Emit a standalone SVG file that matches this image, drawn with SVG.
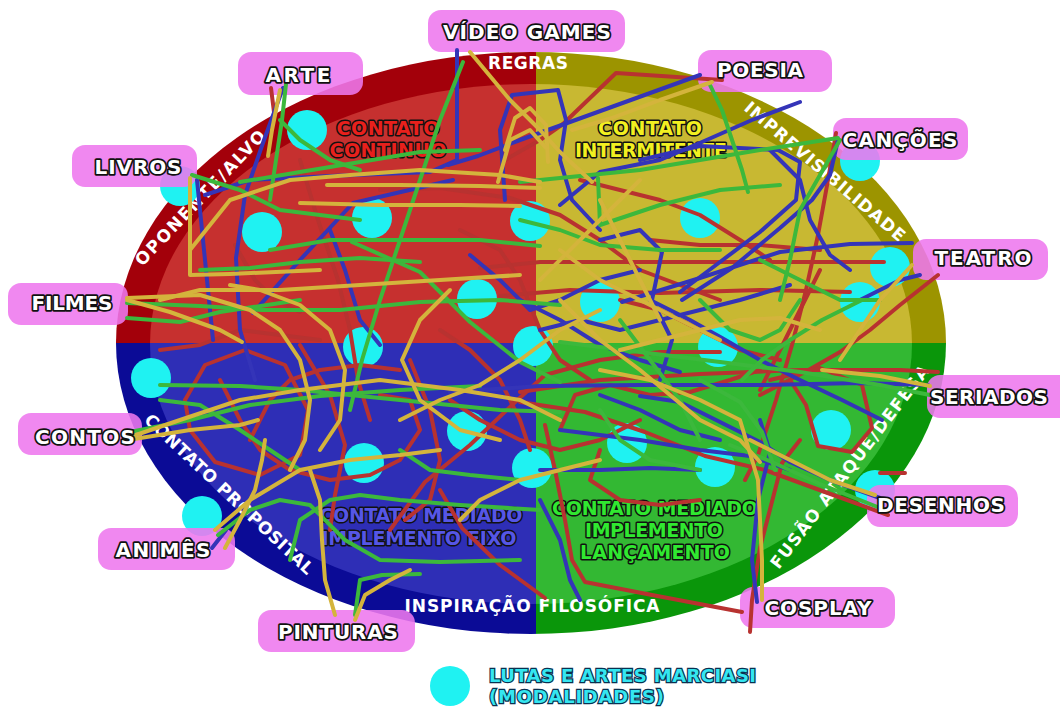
<svg xmlns="http://www.w3.org/2000/svg" width="1060" height="707" viewBox="0 0 1060 707">
<style>
.lbl{font-family:"DejaVu Sans","Liberation Sans",sans-serif;font-weight:bold;font-size:20px;fill:#fff;stroke:#111;stroke-width:3.5;paint-order:stroke;text-anchor:middle;stroke-linejoin:round}
.box{fill:#ee78ee;fill-opacity:0.88}
.q{font-family:"DejaVu Sans","Liberation Sans",sans-serif;font-weight:bold;font-size:19px;stroke:#111;stroke-width:3;paint-order:stroke;text-anchor:middle;stroke-linejoin:round}
.ring{font-family:"DejaVu Sans","Liberation Sans",sans-serif;font-weight:bold;font-size:17px;fill:#fff;text-anchor:middle}
.c{fill:#1ff2f2}
#lines polyline{fill:none;stroke-width:4;stroke-linecap:round;stroke-linejoin:round}
#lines .r{stroke:#b83230}
#lines .b{stroke:#3434b8}
#lines .g{stroke:#3cb83c}
#lines .y{stroke:#d4b43c}
</style>
<defs>
<clipPath id="outer"><ellipse cx="531" cy="343" rx="415" ry="291"/></clipPath>
<clipPath id="inner"><ellipse cx="531" cy="344" rx="381" ry="260"/></clipPath>
<path id="pOpo" d="M 126 284 L 283 120"/>
<path id="pImp" d="M 727 96 L 915 256"/>
<path id="pPro" d="M 128 407 L 322 590"/>
<path id="pFus" d="M 765.9 586.9 L 943.1 354.1"/>
</defs>
<rect width="1060" height="707" fill="#fff"/>
<g id="ellipse">
<g clip-path="url(#outer)">
<rect x="110" y="48" width="426" height="295" fill="#a3000a"/>
<rect x="536" y="48" width="415" height="295" fill="#9c9400"/>
<rect x="110" y="343" width="426" height="295" fill="#0b0b96"/>
<rect x="536" y="343" width="415" height="295" fill="#0a960a"/>
</g>
<g clip-path="url(#inner)">
<rect x="110" y="48" width="426" height="295" fill="#c6302f"/>
<rect x="536" y="48" width="415" height="295" fill="#c8b832"/>
<rect x="110" y="343" width="426" height="295" fill="#2e2eb6"/>
<rect x="536" y="343" width="415" height="295" fill="#33b833"/>
</g>
</g>
<g id="ring-labels">
<text class="ring" x="528" y="69" font-size="18" textLength="80">REGRAS</text>
<text class="ring" x="532" y="612" textLength="255">INSPIRAÇÃO FILOSÓFICA</text>
<text class="ring"><textPath href="#pOpo" startOffset="50%" textLength="180">OPONENTE/ALVO</textPath></text>
<text class="ring"><textPath href="#pImp" startOffset="50%" textLength="205">IMPREVISIBILIDADE</textPath></text>
<text class="ring"><textPath href="#pPro" startOffset="50%" textLength="225">CONTATO PROPOSITAL</textPath></text>
<text class="ring"><textPath href="#pFus" startOffset="50%" textLength="250">FUSÃO ATAQUE/DEFESA</textPath></text>
</g>
<g id="quadrant-labels">
<text class="q" fill="#e8201c" x="388" y="135" textLength="103">CONTATO</text>
<text class="q" fill="#e8201c" x="388" y="157" textLength="117">CONTINUO</text>
<text class="q" fill="#f2f020" x="650" y="135" textLength="104">CONTATO</text>
<text class="q" fill="#f2f020" x="651" y="157" textLength="152">INTERMITENTE</text>
<text class="q" fill="#5656e6" stroke="#141470" x="421" y="522" textLength="203">CONTATO MEDIADO</text>
<text class="q" fill="#5656e6" stroke="#141470" x="419" y="545" textLength="195">IMPLEMENTO FIXO</text>
<text class="q" fill="#30e830" x="655" y="515" textLength="206">CONTATO MEDIADO</text>
<text class="q" fill="#30e830" x="654" y="537" textLength="138">IMPLEMENTO</text>
<text class="q" fill="#30e830" x="655" y="559" textLength="150">LANÇAMENTO</text>
</g>
<g id="modalidades">
<circle class="c" cx="307" cy="130" r="20"/>
<circle class="c" cx="372" cy="218" r="20"/>
<circle class="c" cx="262" cy="232" r="20"/>
<circle class="c" cx="530" cy="221" r="20"/>
<circle class="c" cx="477" cy="299" r="20"/>
<circle class="c" cx="363" cy="347" r="20"/>
<circle class="c" cx="151" cy="378" r="20"/>
<circle class="c" cx="180" cy="186" r="20"/>
<circle class="c" cx="700" cy="218" r="20"/>
<circle class="c" cx="600" cy="302" r="20"/>
<circle class="c" cx="890" cy="267" r="20"/>
<circle class="c" cx="860" cy="302" r="20"/>
<circle class="c" cx="860" cy="161" r="20"/>
<circle class="c" cx="533" cy="346" r="20"/>
<circle class="c" cx="718" cy="347" r="20"/>
<circle class="c" cx="467" cy="431" r="20"/>
<circle class="c" cx="364" cy="463" r="20"/>
<circle class="c" cx="532" cy="468" r="20"/>
<circle class="c" cx="627" cy="443" r="20"/>
<circle class="c" cx="715" cy="467" r="20"/>
<circle class="c" cx="831" cy="430" r="20"/>
<circle class="c" cx="875" cy="490" r="20"/>
<circle class="c" cx="202" cy="516" r="20"/>
</g>
<g id="boxes">
<rect class="box" x="428" y="10" width="197" height="42" rx="13"/>
<rect class="box" x="238" y="52" width="125" height="43" rx="13"/>
<rect class="box" x="698" y="50" width="134" height="42" rx="13"/>
<rect class="box" x="72" y="145" width="125" height="42" rx="13"/>
<rect class="box" x="833" y="118" width="135" height="42" rx="13"/>
<rect class="box" x="913" y="239" width="135" height="41" rx="13"/>
<rect class="box" x="8" y="283" width="120" height="42" rx="13"/>
<rect class="box" x="927" y="375" width="145" height="43" rx="13"/>
<rect class="box" x="18" y="413" width="124" height="42" rx="13"/>
<rect class="box" x="867" y="485" width="151" height="42" rx="13"/>
<rect class="box" x="98" y="528" width="137" height="42" rx="13"/>
<rect class="box" x="740" y="587" width="155" height="41" rx="13"/>
<rect class="box" x="258" y="610" width="157" height="42" rx="13"/>
</g>
<g id="lines">
<polyline class="r" points="271,88 274,112"/>
<polyline class="r" points="722,80 616,73 563,124 540,140 505,160"/>
<polyline class="r" points="836,133 828,180 818,235 806,290 792,345 776,400 758,455 745,480"/>
<polyline class="r" points="938,275 900,305 870,330 840,352 805,372 760,395"/>
<polyline class="r" points="884,262 800,262 700,262 610,262 540,262 480,268"/>
<polyline class="r" points="850,292 760,290 660,293 570,290 500,296"/>
<polyline class="r" points="720,300 640,270 600,240 560,215 510,198 440,188 380,190"/>
<polyline class="r" points="185,400 205,365 245,350 285,365 308,410 300,455 260,475 215,462 190,430 185,400"/>
<polyline class="r" points="300,345 330,395 345,445 335,495 330,530"/>
<polyline class="r" points="390,530 425,482 470,445 512,405 545,375 600,360 660,352 720,352"/>
<polyline class="r" points="888,515 825,492 765,470 705,456 645,432 585,412 520,402"/>
<polyline class="r" points="880,473 905,473"/>
<polyline class="r" points="742,612 652,595 585,582 572,560 565,520 555,470 545,425"/>
<polyline class="r" points="770,380 820,368 862,385 872,428 852,452 818,446 806,405 790,380"/>
<polyline class="r" points="520,392 600,380 700,374 800,370 900,370 938,372"/>
<polyline class="r" points="300,160 318,220 338,280 350,330 358,380 370,420"/>
<polyline class="r" points="160,350 200,345 240,330 280,335 320,340"/>
<polyline class="r" points="410,360 430,410 440,460 430,500 405,520"/>
<polyline class="r" points="545,598 500,565 462,528 440,490"/>
<polyline class="r" points="750,632 752,600 760,548 782,463 800,440"/>
<polyline class="r" points="620,300 660,310 700,330 740,350 780,360"/>
<polyline class="r" points="580,180 620,190 660,200 700,215 740,240 770,260"/>
<polyline class="r" points="460,230 500,250 520,280 540,330 560,360 590,380"/>
<polyline class="r" points="640,420 600,440 560,450 520,440 480,420 450,400"/>
<polyline class="r" points="250,440 270,400 290,380 320,370 360,365 400,370"/>
<polyline class="r" points="440,330 470,350 500,380 520,420 530,450"/>
<polyline class="r" points="820,270 800,310 780,350 760,390"/>
<polyline class="r" points="700,500 660,505 620,500 590,480 600,450"/>
<polyline class="r" points="650,240 700,245 760,245 820,250"/>
<polyline class="r" points="220,380 240,420 260,450 290,470 330,480 370,475 400,460 420,430 410,400 380,395"/>
<polyline class="r" points="560,430 575,395 610,385 650,395 690,392 730,380 760,370"/>
<polyline class="r" points="235,245 255,280 275,300 300,312"/>
<polyline class="b" points="457,50 457,160 430,172 330,176 250,180 205,195"/>
<polyline class="b" points="700,75 570,122 520,140 478,156 448,165"/>
<polyline class="b" points="505,200 500,130 512,95 558,90 566,120 560,160 572,200 600,230"/>
<polyline class="b" points="283,88 264,140 245,195 236,258 240,330 255,380"/>
<polyline class="b" points="838,140 830,175 812,200 780,228 732,268 682,300"/>
<polyline class="b" points="912,243 850,244 780,252 700,278 622,302"/>
<polyline class="b" points="928,385 860,383 760,385 640,385 540,386 450,392"/>
<polyline class="b" points="640,160 700,146 778,150 800,162 796,200 760,232 720,262 680,292"/>
<polyline class="b" points="560,205 600,172 660,160 702,142 752,120 800,102"/>
<polyline class="b" points="453,180 353,203 300,260 253,313"/>
<polyline class="b" points="197,180 205,260 213,340"/>
<polyline class="b" points="757,602 752,560 758,500 770,452 760,420"/>
<polyline class="b" points="880,498 830,480 790,462 760,442 720,422 680,402 640,396"/>
<polyline class="b" points="540,470 600,470 650,468 700,470"/>
<polyline class="b" points="560,430 640,440 700,450 750,456 790,470"/>
<polyline class="b" points="650,300 690,320 722,338 760,360 800,380 842,400 882,420"/>
<polyline class="b" points="600,240 640,230 662,252 652,300 672,340 660,380"/>
<polyline class="b" points="520,300 560,320 600,345 640,360 680,372"/>
<polyline class="b" points="860,300 880,290 900,280 920,275"/>
<polyline class="b" points="770,150 800,180 810,220 830,255 850,270"/>
<polyline class="b" points="330,230 345,270 360,320 380,345"/>
<polyline class="b" points="540,500 560,540 570,580 580,600"/>
<polyline class="b" points="226,530 212,548"/>
<polyline class="b" points="600,395 640,410 680,430 720,440"/>
<polyline class="b" points="470,255 500,280 530,310 560,300 600,280 640,270"/>
<polyline class="b" points="540,330 580,320 620,330 660,320 700,310 740,300 790,285"/>
<polyline class="g" points="463,62 440,120 420,180 400,240 380,300 362,360 350,410"/>
<polyline class="g" points="286,84 282,120 276,160 270,200"/>
<polyline class="g" points="192,175 240,190 280,210 320,215 360,220"/>
<polyline class="g" points="838,138 760,150 700,160 640,170 580,176 520,182"/>
<polyline class="g" points="598,178 600,225 660,205 720,190 780,185"/>
<polyline class="g" points="127,303 200,306 262,310 340,310 420,302 500,300 560,305"/>
<polyline class="g" points="127,318 180,322 220,312 300,300"/>
<polyline class="g" points="130,432 190,420 250,405 320,396 400,390 480,386"/>
<polyline class="g" points="160,385 240,386 300,390 400,400 500,410 560,412"/>
<polyline class="g" points="218,535 250,510 280,500 310,505 345,540 380,560 440,562 520,560"/>
<polyline class="g" points="355,615 360,580 382,575 420,574"/>
<polyline class="g" points="930,395 880,385 800,372 720,362 640,352 560,342"/>
<polyline class="g" points="880,508 820,484 772,462 730,445"/>
<polyline class="g" points="862,300 822,320 790,340 762,360 742,380"/>
<polyline class="g" points="240,182 300,172 360,162 420,152 480,150"/>
<polyline class="g" points="270,250 330,240 400,240 480,240 540,246"/>
<polyline class="g" points="352,242 420,272 470,322 520,362 560,382"/>
<polyline class="g" points="710,85 722,110 732,140 742,170 748,192"/>
<polyline class="g" points="700,380 740,402 762,432 775,470"/>
<polyline class="g" points="620,320 650,360 680,400 700,440"/>
<polyline class="g" points="280,120 300,140 330,160 360,170"/>
<polyline class="g" points="160,400 200,405 240,430 270,450 300,470"/>
<polyline class="g" points="290,560 300,520 330,500 360,495 400,500 460,505 540,510"/>
<polyline class="g" points="760,260 800,280 840,300 880,300"/>
<polyline class="g" points="700,300 730,330 760,340 780,330 800,300"/>
<polyline class="g" points="400,450 430,470 470,475 520,480"/>
<polyline class="g" points="840,140 800,210 790,260 780,300"/>
<polyline class="g" points="600,410 620,440 650,460 700,470"/>
<polyline class="g" points="520,220 560,230 600,245 660,250 720,250"/>
<polyline class="g" points="200,270 250,268 300,262 360,258 420,262"/>
<polyline class="y" points="470,52 510,100 540,130 560,152 592,182"/>
<polyline class="y" points="712,82 660,100 612,118 572,130"/>
<polyline class="y" points="280,90 272,130 268,156"/>
<polyline class="y" points="127,298 200,295 250,310 280,330 300,360 310,400 305,440 290,470"/>
<polyline class="y" points="127,300 170,312 220,330 242,342"/>
<polyline class="y" points="130,437 180,420 240,400 300,390 380,380 460,390 520,400 560,420"/>
<polyline class="y" points="128,440 190,430 240,425 258,420"/>
<polyline class="y" points="225,548 240,520 255,490 262,460 265,440"/>
<polyline class="y" points="215,530 250,500 300,470 350,460 400,455 440,450"/>
<polyline class="y" points="335,615 325,580 322,540 320,500 310,470"/>
<polyline class="y" points="355,620 365,595 390,580 410,570"/>
<polyline class="y" points="762,600 762,560 760,520 758,480 740,420 700,400 650,380 600,370"/>
<polyline class="y" points="875,495 830,480 790,460 750,440"/>
<polyline class="y" points="912,265 880,300 860,330 840,360"/>
<polyline class="y" points="190,250 230,200 290,180 350,175 420,170 500,175 540,182"/>
<polyline class="y" points="160,300 200,290 280,290 360,285 440,280 520,275"/>
<polyline class="y" points="230,285 260,290 300,305 330,330 345,370 340,420 320,450"/>
<polyline class="y" points="450,290 420,320 402,360 420,400 460,430 500,440"/>
<polyline class="y" points="560,300 600,340 640,370 700,420 740,440 760,462"/>
<polyline class="y" points="540,280 580,240 620,200 640,180"/>
<polyline class="y" points="930,386 880,376 822,370"/>
<polyline class="y" points="505,150 515,118 530,108 546,125 548,162"/>
<polyline class="y" points="498,182 510,140 530,130 546,148"/>
<polyline class="y" points="190,178 190,275 230,274 320,270"/>
<polyline class="y" points="327,185 400,185 480,186 540,188"/>
<polyline class="y" points="300,203 380,205 460,205 520,206"/>
<polyline class="y" points="560,250 600,280 640,300 680,320 720,340"/>
<polyline class="y" points="400,420 440,400 480,385 520,360 560,330 600,310"/>
<polyline class="y" points="460,520 480,500 520,480 560,470 600,460"/>
<polyline class="y" points="600,200 620,240 640,280 660,320"/>
<polyline class="y" points="620,350 660,340 700,330 740,320 780,318 820,330"/>
</g>
<g id="node-videogames"><text class="lbl" x="527" y="39" textLength="168">VÍDEO GAMES</text></g>
<g id="node-arte"><text class="lbl" x="298" y="82" textLength="65">ARTE</text></g>
<g id="node-poesia"><text class="lbl" x="760" y="77" textLength="86">POESIA</text></g>
<g id="node-livros"><text class="lbl" x="138" y="174" textLength="87">LIVROS</text></g>
<g id="node-cancoes"><text class="lbl" x="900" y="147" textLength="115">CANÇÕES</text></g>
<g id="node-teatro"><text class="lbl" x="983" y="265" textLength="97">TEATRO</text></g>
<g id="node-filmes"><text class="lbl" x="72" y="310" textLength="81">FILMES</text></g>
<g id="node-seriados"><text class="lbl" x="989" y="404" textLength="118">SERIADOS</text></g>
<g id="node-contos"><text class="lbl" x="85" y="444" textLength="100">CONTOS</text></g>
<g id="node-desenhos"><text class="lbl" x="941" y="512" textLength="128">DESENHOS</text></g>
<g id="node-animes"><text class="lbl" x="163" y="557" textLength="95">ANIMÊS</text></g>
<g id="node-cosplay"><text class="lbl" x="818" y="615" textLength="107">COSPLAY</text></g>
<g id="node-pinturas"><text class="lbl" x="338" y="639" textLength="120">PINTURAS</text></g>
<g id="legend">
<circle class="c" cx="450" cy="686" r="20"/>
<text x="489" y="682" font-family="DejaVu Sans, sans-serif" font-weight="bold" font-size="18" fill="#35e6f0" stroke="#0a3050" stroke-width="2.5" paint-order="stroke" textLength="267">LUTAS E ARTES MARCIASI</text>
<text x="489" y="703" font-family="DejaVu Sans, sans-serif" font-weight="bold" font-size="18" fill="#35e6f0" stroke="#0a3050" stroke-width="2.5" paint-order="stroke" textLength="175">(MODALIDADES)</text>
</g>
</svg>
